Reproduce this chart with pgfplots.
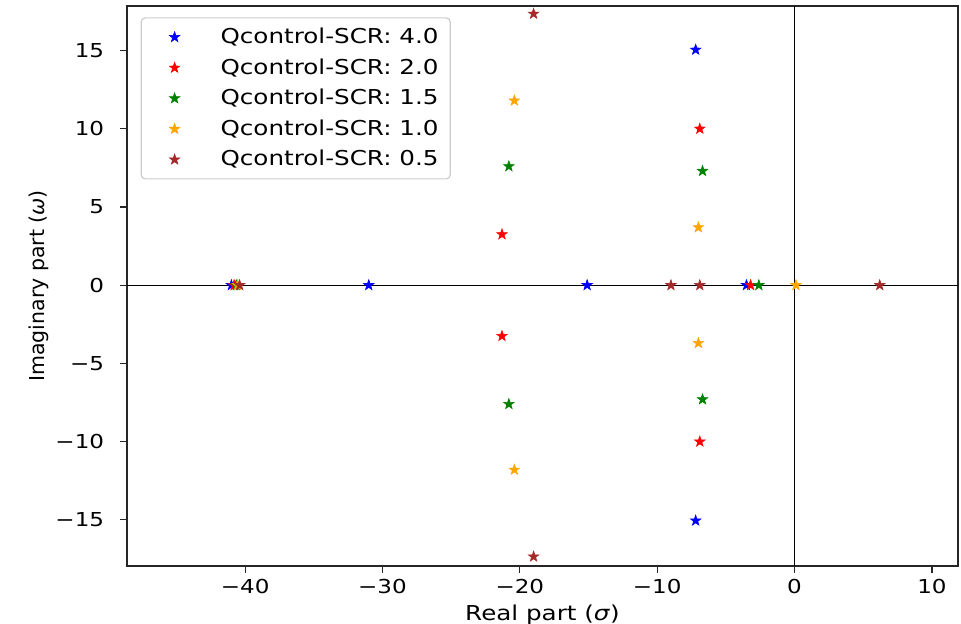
\documentclass[border=0pt]{standalone}
\usepackage{fontspec}
\setmainfont{DejaVu Sans}[FakeStretch=1.2]
\newfontfamily\plainfont{DejaVu Sans}
\usepackage{pgfplots}
\pgfplotsset{compat=1.18}
\definecolor{cblue}{RGB}{0,0,255}
\definecolor{cred}{RGB}{255,0,0}
\definecolor{cgreen}{RGB}{0,128,0}
\definecolor{corange}{RGB}{255,165,0}
\definecolor{cbrown}{RGB}{165,42,42}
\pgfdeclareplotmark{fstar}{%
  \pgfsetcornersarced{\pgfpointorigin}%
  \pgfpathmoveto{\pgfpointpolar{90}{\pgfplotmarksize}}%
  \pgfpathlineto{\pgfpointpolar{126}{0.4\pgfplotmarksize}}%
  \pgfpathlineto{\pgfpointpolar{162}{\pgfplotmarksize}}%
  \pgfpathlineto{\pgfpointpolar{198}{0.4\pgfplotmarksize}}%
  \pgfpathlineto{\pgfpointpolar{234}{\pgfplotmarksize}}%
  \pgfpathlineto{\pgfpointpolar{270}{0.4\pgfplotmarksize}}%
  \pgfpathlineto{\pgfpointpolar{306}{\pgfplotmarksize}}%
  \pgfpathlineto{\pgfpointpolar{342}{0.4\pgfplotmarksize}}%
  \pgfpathlineto{\pgfpointpolar{18}{\pgfplotmarksize}}%
  \pgfpathlineto{\pgfpointpolar{54}{0.4\pgfplotmarksize}}%
  \pgfpathclose
  \pgfusepathqfillstroke
}
\pgfplotsset{
  starplot/.style={only marks, mark=fstar, mark size=2.75pt, color=#1,
    mark options={line width=0.3pt},
    legend image code/.code={%
      \path[draw=none, fill=none] (0pt,-7.65pt) rectangle (33.8pt,7.65pt);
      \draw[##1] plot coordinates {(10.8pt,0pt)};
    }},
}
\begin{document}
\begin{tikzpicture}
\useasboundingbox (-63.5pt,-29pt) rectangle (417pt,283pt);
\begin{axis}[
  scale only axis, width=415.5pt, height=280pt,
  xmin=-48.6, xmax=11.9, ymin=-17.95, ymax=17.85,
  xtick={-40,-30,-20,-10,0,10}, xticklabels={−40,−30,−20,−10,0,10},
  ytick={-15,-10,-5,0,5,10,15}, yticklabels={−15,−10,−5,0,5,10,15},
  tick align=outside, xtick pos=bottom, ytick pos=left,
  major tick length=3.6pt,
  tick style={black!85, line width=0.6pt},
  axis line style={black!85, line width=0.6pt},
  ticklabel style={font=\fontsize{9.6}{11}\selectfont, inner sep=0pt},
  xticklabel style={anchor=north, yshift=-3pt},
  yticklabel style={anchor=east, xshift=-7.65pt},
  xlabel={Real part (\textit{σ})},
  ylabel={Imaginary part (\textit{ω})},
  xlabel style={at={(axis description cs:0.5,-0.0946)}, anchor=base, yshift=-1pt, font=\fontsize{10.25}{12}\selectfont},
  ylabel style={at={(axis description cs:-0.1057,0.5)}, anchor=center, font=\plainfont\fontsize{10.25}{12}\selectfont},
  legend cell align=left,
  legend style={at={(0,1)}, anchor=north west, xshift=6.85pt, yshift=-5.65pt,
    draw=black!20, fill=white, rounded corners=2pt, line width=0.6pt,
    inner xsep=5.85pt, inner ysep=2pt, row sep=0pt,
    font=\fontsize{10.25}{12}\selectfont, nodes={inner sep=0pt},
    /tikz/every even column/.style={column sep=0pt}},
]
\addplot[black, line width=0.6pt, forget plot] coordinates {(-48.6,0) (11.9,0)};
\addplot[black, line width=0.6pt, forget plot] coordinates {(0,-17.95) (0,17.85)};
\addplot[starplot=cblue] coordinates {(-41.0,0) (-31.0,0) (-15.1,0) (-3.5,0) (-7.2,15.05) (-7.2,-15.05)};
\addlegendentry{Qcontrol-SCR: 4.0}
\addplot[starplot=cred] coordinates {(-40.8,0) (-3.2,0) (-6.9,10.0) (-6.9,-10.0) (-21.3,3.25) (-21.3,-3.25)};
\addlegendentry{Qcontrol-SCR: 2.0}
\addplot[starplot=cgreen] coordinates {(-40.65,0) (-2.6,0) (-6.7,7.3) (-6.7,-7.3) (-20.8,7.6) (-20.8,-7.6)};
\addlegendentry{Qcontrol-SCR: 1.5}
\addplot[starplot=corange] coordinates {(-40.55,0) (0.1,0) (-7.0,3.7) (-7.0,-3.7) (-20.4,11.8) (-20.4,-11.8)};
\addlegendentry{Qcontrol-SCR: 1.0}
\addplot[starplot=cbrown] coordinates {(-40.4,0) (-9.0,0) (-6.9,0) (6.2,0) (-19.0,17.35) (-19.0,-17.35)};
\addlegendentry{Qcontrol-SCR: 0.5}
\end{axis}
\end{tikzpicture}
\end{document}
